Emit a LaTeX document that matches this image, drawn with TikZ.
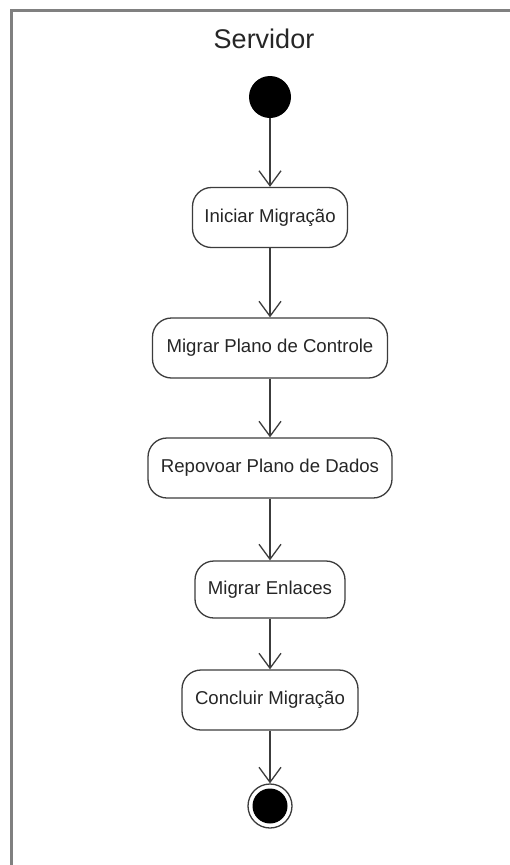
\documentclass[tikz,border=0pt]{standalone}
\usepackage{fontspec}
\setmainfont{Liberation Sans}
\usetikzlibrary{arrows.meta}
\definecolor{linec}{HTML}{3C3C3C}
\definecolor{framec}{HTML}{808080}
\definecolor{txt}{HTML}{262626}
\begin{document}
\begin{tikzpicture}[x=1pt,y=-1pt,
  act/.style={draw=linec, line width=1.3pt, rounded corners=19pt, fill=white,
    minimum height=60pt, inner sep=0pt, text=txt,
    font=\fontsize{18.6}{22}\selectfont},
  flow/.style={draw=linec, line width=1.3pt,
    -{Straight Barb[length=15pt,width=22pt,line width=1.3pt]}},
  frame/.style={draw=framec, line width=2.6pt},
]
\useasboundingbox (0,0) rectangle (510,865);
\fill[white] (0,0) rectangle (510,865);
\begin{scope}
  \clip (0,0) rectangle (510,865);
  % swimlane frame, open to the right and bottom
  \draw[frame] (11.5,880) -- (11.5,10.5) -- (530,10.5);
\end{scope}
\node[text=txt, font=\fontsize{27}{32}\selectfont] (title) at (264,39) {Servidor};

% initial and final states
\node[circle, fill=black, minimum size=42pt, inner sep=0pt] (start) at (270,97) {};
\node[circle, draw=linec, line width=1.3pt, minimum size=44pt, inner sep=0pt] (stop) at (270,806) {};
\fill[black] (stop.center) circle (17.5pt);

% activities
\node[act, minimum width=155pt] (a1) at (270,217.5) {Iniciar Migração};
\node[act, minimum width=235pt] (a2) at (270,348) {Migrar Plano de Controle};
\node[act, minimum width=244pt] (a3) at (270,468) {Repovoar Plano de Dados};
\node[act, minimum width=150pt, minimum height=57pt] (a4) at (270,589.5) {Migrar Enlaces};
\node[act, minimum width=176pt] (a5) at (270,700) {Concluir Migração};

% control flow
\draw[flow] (start) -- (a1);
\draw[flow] (a1) -- (a2);
\draw[flow] (a2) -- (a3);
\draw[flow] (a3) -- (a4);
\draw[flow] (a4) -- (a5);
\draw[flow] (a5) -- (stop);
\end{tikzpicture}
\end{document}
